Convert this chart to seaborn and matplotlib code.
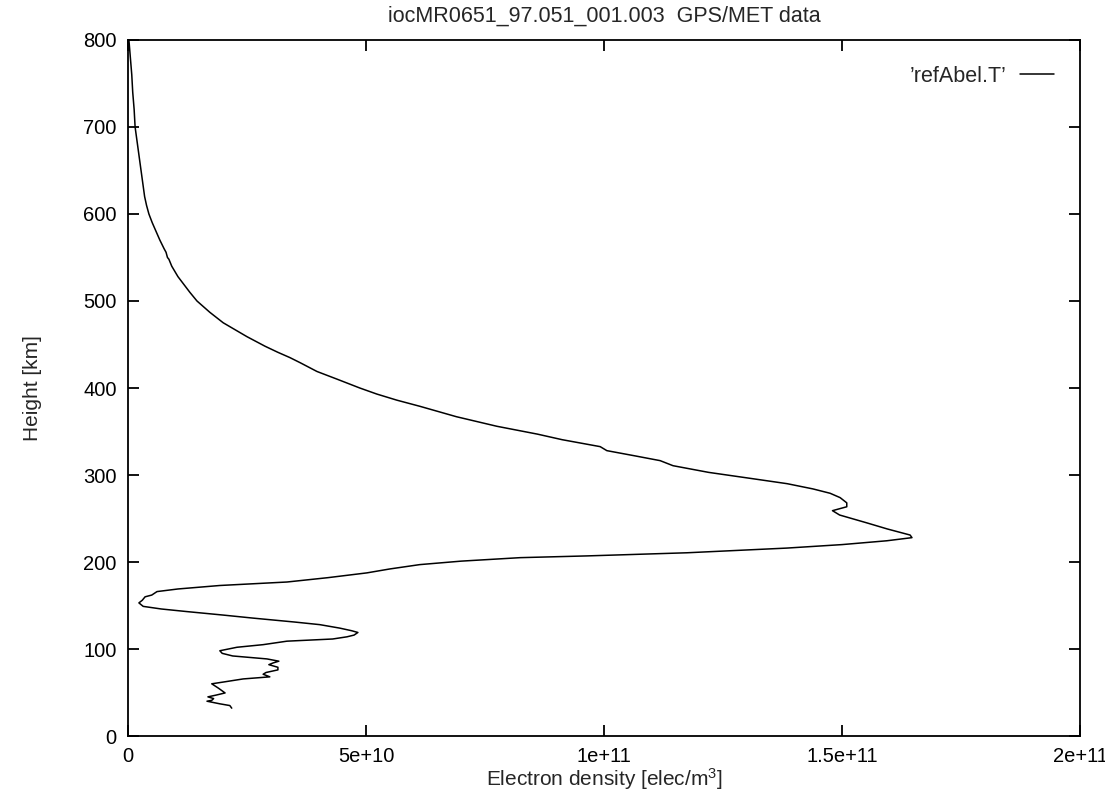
import matplotlib
matplotlib.use("Agg")
import matplotlib.pyplot as plt
import seaborn as sns
import pandas as pd

# Abel-inverted electron density profile (height in km, density in 1e10 elec/m^3)
height_km = [
    800, 780, 760, 740, 720, 700, 680, 660, 640, 620, 610, 600, 590, 580, 570, 560,
    556, 550, 548, 540, 528, 510, 500, 487, 475, 459, 448, 441, 435, 429, 419, 410,
    400, 393, 386, 379, 367, 356, 347, 340.6, 332.6, 328, 322, 316.5, 310.7, 303,
    295.7, 290, 284, 279, 274, 268, 263.5, 259, 254, 245, 238, 231, 228, 224.4, 220,
    216, 210.6, 207, 205, 201, 197, 192, 187.5, 182, 177, 173, 169, 166, 162, 160,
    156, 153, 149, 146, 143, 139, 135.5, 131, 128, 124, 121, 119, 116, 114, 111.5,
    109, 105, 102, 98, 95, 92, 88.6, 86, 84, 82, 79, 76, 73, 71, 68, 65.6, 62, 60,
    55, 49.5, 47, 45, 43, 41, 40, 37, 35, 32,
]
density_e10 = [
    0.02, 0.05, 0.08, 0.10, 0.13, 0.15, 0.20, 0.25, 0.30, 0.35, 0.39, 0.44, 0.51,
    0.59, 0.67, 0.76, 0.80, 0.83, 0.86, 0.92, 1.05, 1.30, 1.45, 1.72, 2.00, 2.50,
    2.88, 3.15, 3.40, 3.62, 3.97, 4.40, 4.87, 5.23, 5.65, 6.13, 6.90, 7.75, 8.60,
    9.12, 9.92, 10.06, 10.65, 11.18, 11.45, 12.20, 13.13, 13.85, 14.39, 14.75,
    14.96, 15.10, 15.10, 14.80, 14.95, 15.52, 15.95, 16.43, 16.47, 15.94, 15.00,
    13.84, 11.74, 9.64, 8.24, 7.00, 6.13, 5.50, 5.02, 4.20, 3.34, 1.93, 1.05, 0.61,
    0.50, 0.36, 0.30, 0.23, 0.32, 0.70, 1.24, 2.00, 2.63, 3.50, 4.03, 4.45, 4.70,
    4.83, 4.75, 4.60, 4.30, 3.34, 2.84, 2.29, 1.93, 1.98, 2.20, 2.92, 3.17, 3.05,
    2.96, 3.15, 3.15, 2.90, 2.84, 2.98, 2.42, 2.00, 1.76, 1.90, 2.04, 1.85, 1.68,
    1.80, 1.76, 1.66, 1.93, 2.14, 2.18,
]

x_ticks = [0, 5e10, 1e11, 1.5e11, 2e11]
x_tick_labels = ["0", "5e+10", "1e+11", "1.5e+11", "2e+11"]
y_ticks = [0, 100, 200, 300, 400, 500, 600, 700, 800]
y_tick_labels = ["0", "100", "200", "300", "400", "500", "600", "700", "800"]

title_text = "iocMR0651_97.051_001.003  GPS/MET data"
series_name = "\u2019refAbel.T\u2019"

sns.set_style("ticks")
plt.rcParams["font.family"] = ["Liberation Sans", "DejaVu Sans"]
plt.rcParams["mathtext.fontset"] = "custom"
plt.rcParams["mathtext.rm"] = "Liberation Sans"
plt.rcParams["mathtext.it"] = "Liberation Sans"

df = pd.DataFrame({
    "density": [v * 1e10 for v in density_e10],
    "height": height_km,
    "series": series_name,
})

fig = plt.figure(figsize=(11.05, 7.92), dpi=100)
ax = fig.add_axes([0.1158, 0.0707, 0.9774 - 0.1158, 0.9495 - 0.0707])

sns.lineplot(data=df, x="density", y="height", hue="series", palette=["black"],
             sort=False, estimator=None, linewidth=1.1, ax=ax)

ax.set_xlim(0, 2e11)
ax.set_ylim(0, 800)
ax.set_xticks(x_ticks)
ax.set_xticklabels(x_tick_labels)
ax.set_yticks(y_ticks)
ax.set_yticklabels(y_tick_labels)

for s in ax.spines.values():
    s.set_visible(True)
    s.set_linewidth(1.3)
    s.set_color("black")

ax.tick_params(axis="both", direction="in", length=8, width=1.3,
               top=True, right=True, labelsize=14.5, pad=8, colors="black")

ax.set_title(title_text, fontsize=15.5, pad=13)
ax.set_xlabel("Electron density [elec/m$^3$]", fontsize=15, labelpad=0)
ax.set_ylabel("Height [km]", fontsize=15, labelpad=30)

ax.legend(loc="upper right", frameon=False, markerfirst=False, fontsize=15.5,
          handlelength=1.6, handletextpad=0.6, borderaxespad=0.8, title=None)

fig.savefig("out.png", dpi=100)
